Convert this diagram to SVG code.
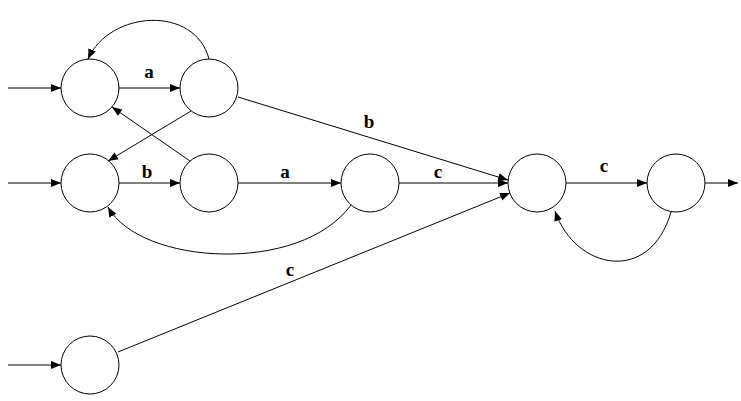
<svg xmlns="http://www.w3.org/2000/svg" width="741" height="401" viewBox="0 0 741 401">
<style>
circle{fill:#fff;stroke:#000;stroke-width:1}
.e{fill:none;stroke:#000;stroke-width:1;marker-end:url(#ar)}
text{font-family:"Liberation Serif",serif;font-weight:bold;font-size:19px;text-anchor:middle}
</style>
<defs><marker id="ar" viewBox="0 0 10 10" refX="10" refY="5" markerWidth="10" markerHeight="10" markerUnits="userSpaceOnUse" orient="auto"><path d="M0,1 L10,5 L0,9 z"/></marker></defs>
<rect width="741" height="401" fill="#fff"/>
<g id="edges">
<path class="e" d="M8,88 H61"/>
<path class="e" d="M8,183 H61"/>
<path class="e" d="M8,365 H61"/>
<path class="e" d="M705,183 H738"/>
<path class="e" d="M119,88 H180"/>
<path class="e" d="M209,59 C195,5 110,10 88,59"/>
<path class="e" d="M238,97 L508,180"/>
<path class="e" d="M191,111 L108,161"/>
<path class="e" d="M190,161 L112,107"/>
<path class="e" d="M119,183 H180"/>
<path class="e" d="M238,183 H341"/>
<path class="e" d="M399,183 H508"/>
<path class="e" d="M351,205 C300,275 140,265 108,207"/>
<path class="e" d="M118,352 L510,193"/>
<path class="e" d="M566,183 H647"/>
<path class="e" d="M671,212 C650,285 575,270 555,211"/>
</g>
<g id="labels">
<text x="149" y="78">a</text>
<text x="369" y="128">b</text>
<text x="147" y="178">b</text>
<text x="285" y="178">a</text>
<text x="438" y="178">c</text>
<text x="290" y="276">c</text>
<text x="604" y="172">c</text>
</g>
<g id="n1"><circle cx="90" cy="88" r="29"/></g>
<g id="n2"><circle cx="209" cy="88" r="29"/></g>
<g id="n3"><circle cx="90" cy="183" r="29"/></g>
<g id="n4"><circle cx="209" cy="183" r="29"/></g>
<g id="n5"><circle cx="370" cy="183" r="29"/></g>
<g id="n6"><circle cx="537" cy="183" r="29"/></g>
<g id="n7"><circle cx="676" cy="183" r="29"/></g>
<g id="n8"><circle cx="90" cy="365" r="29"/></g>
</svg>
